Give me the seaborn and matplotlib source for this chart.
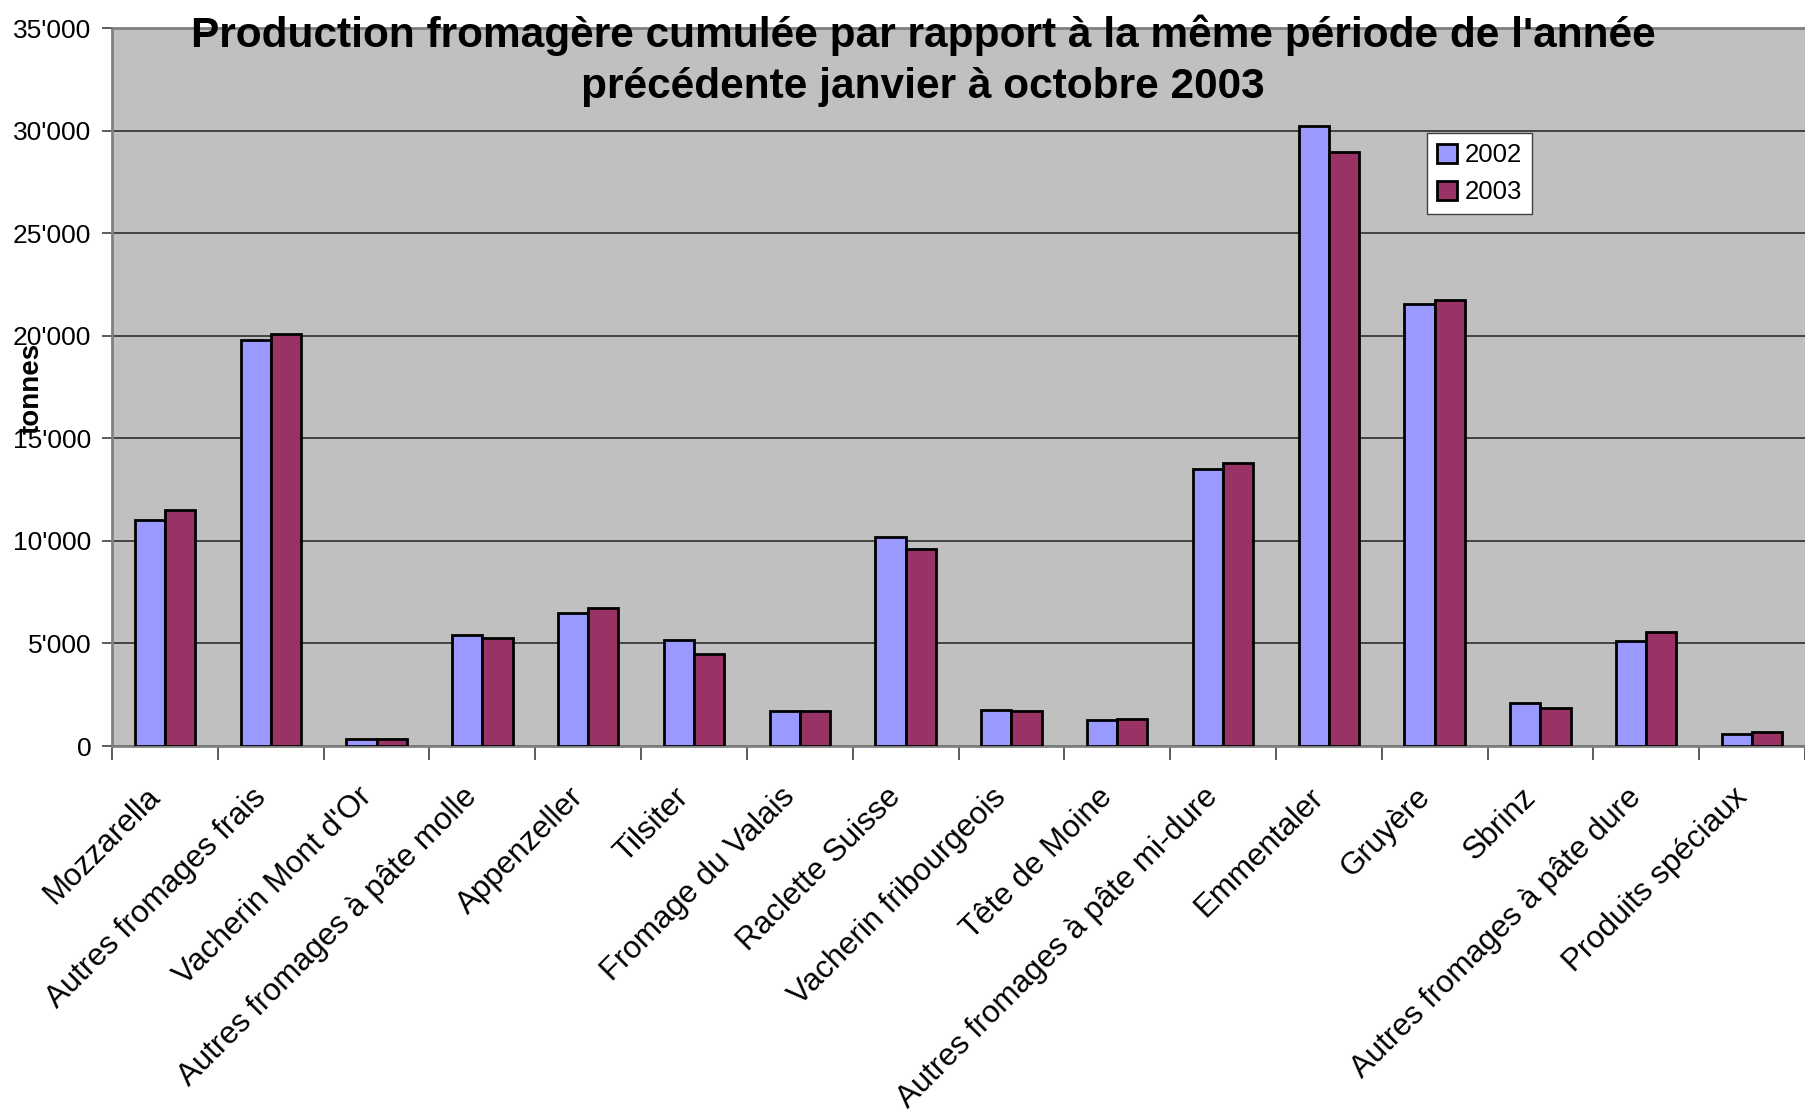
import matplotlib
matplotlib.use("Agg")
import matplotlib.pyplot as plt
import matplotlib.transforms as mtransforms
import seaborn as sns
import pandas as pd

# valeurs (tonnes)
fromages = ["Mozzarella", "Autres fromages frais", "Vacherin Mont d'Or",
            "Autres fromages à pâte molle", "Appenzeller", "Tilsiter",
            "Fromage du Valais", "Raclette Suisse", "Vacherin fribourgeois",
            "Tête de Moine", "Autres fromages à pâte mi-dure", "Emmentaler",
            "Gruyère", "Sbrinz", "Autres fromages à pâte dure", "Produits spéciaux"]
prod_2002 = [11000, 19780, 350, 5390, 6500, 5170, 1700, 10200, 1760,
             1250, 13480, 30230, 21550, 2100, 5110, 600]
prod_2003 = [11480, 20100, 350, 5280, 6750, 4470, 1720, 9600, 1700,
             1300, 13800, 28940, 21750, 1860, 5560, 690]
annees = ["2002", "2003"]
couleurs = ["#9999FF", "#993366"]
yticks = [0, 5000, 10000, 15000, 20000, 25000, 30000, 35000]
ytick_labels = ["0", "5'000", "10'000", "15'000", "20'000", "25'000", "30'000", "35'000"]

df = pd.DataFrame({
    "fromage": fromages * 2,
    "tonnes": prod_2002 + prod_2003,
    "annee": [annees[0]] * len(fromages) + [annees[1]] * len(fromages),
})

sns.set_style("white")
plt.rcParams["font.family"] = ["Liberation Sans", "DejaVu Sans"]
plt.rcParams["text.color"] = "black"
plt.rcParams["xtick.color"] = "black"
plt.rcParams["ytick.color"] = "black"

W, H = 1805, 1117
fig = plt.figure(figsize=(W / 100, H / 100), dpi=100)
ax = fig.add_axes([112 / W, (H - 746) / H, (W - 112) / W, (746 - 28) / H])
ax.set_facecolor("#C0C0C0")

sns.barplot(data=df, x="fromage", y="tonnes", hue="annee", palette=couleurs,
            saturation=1, width=0.57, edgecolor="black", linewidth=2, ax=ax, zorder=3)

ax.set_ylim(0, 35000)
ax.set_xlim(-0.5, -0.5 + (W - 112) / 107)
ax.set_yticks(yticks)
ax.set_yticklabels(ytick_labels, fontsize=19)
ax.yaxis.grid(True, color="#202020", linewidth=1.1, zorder=0)
ax.set_axisbelow(True)
ax.tick_params(axis="y", length=7, width=1.2, color="#404040", labelcolor="black",
               pad=8, left=True)

# graduations entre les catégories, libellés au centre
ax.set_xticks([i + 0.5 for i in range(-1, len(fromages))], minor=True)
ax.set_xticks(range(len(fromages)))
ax.set_xticklabels(fromages, fontsize=22.5, rotation=45, ha="right",
                   rotation_mode="anchor")
ax.tick_params(axis="x", which="major", length=0, pad=26, labelcolor="black")
ax.tick_params(axis="x", which="minor", length=10, width=1.2, color="#404040", bottom=True)
decal = mtransforms.ScaledTranslation(-20 / 100, 0, fig.dpi_scale_trans)
for lab in ax.get_xticklabels():
    lab.set_transform(lab.get_transform() + decal)

for s in ["left", "bottom", "top"]:
    ax.spines[s].set_color("#808080")
    ax.spines[s].set_linewidth(2)
ax.spines["right"].set_visible(False)

ax.set_xlabel("")
ax.set_ylabel("")
fig.text(32 / W, 1 - 388 / H, "tonnes", rotation=90, fontsize=20,
         fontweight="bold", ha="center", va="center", color="black")

fig.text(923 / W, 1 - 14 / H,
         "Production fromagère cumulée par rapport à la même période de l'année\n"
         "précédente janvier à octobre 2003",
         ha="center", va="top", fontsize=30.5, fontweight="bold", linespacing=1.38,
         color="black")

leg = ax.legend(loc="upper left", bbox_to_anchor=(1427 / W, 1 - 133 / H),
                bbox_transform=fig.transFigure, fontsize=18.5, frameon=True,
                fancybox=False, framealpha=1, edgecolor="#404040",
                handlelength=0.75, handleheight=0.75, handletextpad=0.3,
                labelspacing=0.5, borderpad=0.4, borderaxespad=0)
leg.get_frame().set_linewidth(1)
for t in leg.get_texts():
    t.set_color("black")

fig.savefig("out.png", dpi=100)
